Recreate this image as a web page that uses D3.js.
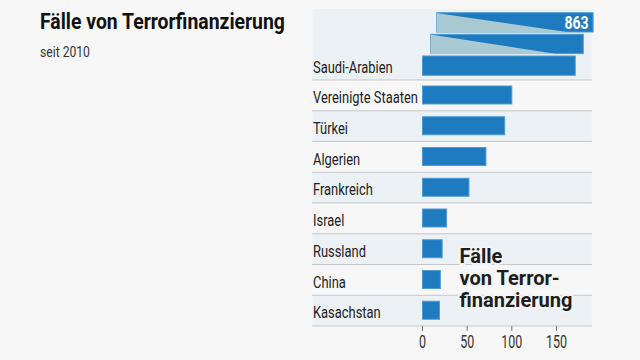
<!DOCTYPE html>
<html>
<head>
<meta charset="utf-8">
<script src="https://cdn.jsdelivr.net/npm/d3@7"></script>
<style>
  body { margin: 0; background: #f7f7f7; }
  svg text { font-family: Roboto, "Noto Sans", sans-serif; }
</style>
</head>
<body>
<div id="chart"></div>
<script>
var countries = ["Saudi-Arabien", "Vereinigte Staaten", "Türkei", "Algerien", "Frankreich",
                 "Israel", "Russland", "China", "Kasachstan"];
var cases = [863, 100, 92, 71, 52, 27, 22, 20, 19];
var tickValues = [0, 50, 100, 150];
var titleText = "Fälle von Terrorfinanzierung";
var subtitleText = "seit 2010";
var overlayLines = ["Fälle", "von Terror-", "finanzierung"];

var myChart = {};
(function(context) {

    var width = 640;
    var height = 360;

    var svg;
    var x;
    var y;

    var panelLeft = 312.5;
    var panelRight = 591.7;
    var bigTop = 9;     // the folded bar for the first country gets a tall row
    var rowsTop = 80;
    var rowsBottom = 326;

    var barColor = "#1f7bbf";
    var barStroke = "#4f9bd6";
    var foldColor = "#a9c9d3";
    var rowColor = "#ecf1f5";

    // the original uses a condensed face; squeeze the text horizontally instead
    function squeeze(sel, f) {
        sel.each(function() {
            var t = d3.select(this);
            var tx = +t.attr("x") || 0;
            var ty = +t.attr("y") || 0;
            t.attr("x", 0).attr("y", 0)
             .attr("transform", "translate(" + tx + "," + ty + ") scale(" + f + ",1)");
        });
    }

    context.draw = function(name) {

        svg = d3.select(name).append("svg")
            .attr("width", width)
            .attr("height", height);

        svg.append("rect")
            .attr("width", width)
            .attr("height", height)
            .attr("fill", "#f7f7f7");

        x = d3.scaleLinear()
            .domain([0, 190])
            .range([422, panelRight]);

        y = d3.scaleBand()
            .domain(countries.slice(1))
            .range([rowsTop, rowsBottom]);

        // row backgrounds
        svg.append("rect")
            .attr("x", panelLeft)
            .attr("y", bigTop)
            .attr("width", panelRight - panelLeft)
            .attr("height", rowsTop - bigTop)
            .attr("fill", rowColor);

        svg.selectAll("rect.row")
            .data(countries.slice(1))
            .enter()
            .append("rect")
            .attr("class", "row")
            .attr("x", panelLeft)
            .attr("y", function(d) { return y(d); })
            .attr("width", panelRight - panelLeft)
            .attr("height", y.bandwidth())
            .attr("fill", function(d, i) { return i % 2 === 1 ? rowColor : "none"; });

        // dotted separators
        var lines = [rowsTop].concat(countries.slice(1).map(function(d) { return y(d) + y.bandwidth(); }));
        svg.selectAll("line.sep")
            .data(lines)
            .enter()
            .append("line")
            .attr("class", "sep")
            .attr("x1", panelLeft)
            .attr("x2", panelRight)
            .attr("y1", function(d) { return d; })
            .attr("y2", function(d) { return d; })
            .attr("stroke", "#9a9a9a")
            .attr("stroke-width", 1)
            .attr("stroke-dasharray", "1,1");

        // normal bars
        svg.selectAll("rect.bar")
            .data(countries.slice(1))
            .enter()
            .append("rect")
            .attr("class", "bar")
            .attr("x", x(0) + 0.5)
            .attr("y", function(d) { return y(d) + 6; })
            .attr("width", function(d, i) { return x(cases[i + 1]) - x(0); })
            .attr("height", 18)
            .attr("fill", barColor)
            .attr("stroke", barStroke)
            .attr("stroke-width", 1);

        // folded bar (value too large for the axis)
        var folds = [
            { start: 16, end: 191, top: 12.7, cutTop: 18, cutBottom: 166 },
            { start: 9,  end: 180, top: 34.3, cutTop: 11, cutBottom: 151 },
            { start: 0,  end: 171, top: 56,   cutTop: null, cutBottom: null }
        ];
        var foldH = 19.3;

        folds.forEach(function(f) {
            svg.append("rect")
                .attr("x", x(f.start) + 0.5)
                .attr("y", f.top)
                .attr("width", x(f.end) - x(f.start))
                .attr("height", foldH)
                .attr("fill", barColor)
                .attr("stroke", barStroke)
                .attr("stroke-width", 1);
            if (f.cutTop !== null) {
                svg.append("path")
                    .attr("d", "M" + (x(f.start) + 0.5) + "," + (f.top + 0.5) +
                               "L" + x(f.cutTop) + "," + (f.top + 0.5) +
                               "L" + x(f.cutBottom) + "," + (f.top + foldH + 0.5) +
                               "L" + (x(f.start) + 0.5) + "," + (f.top + foldH + 0.5) + "Z")
                    .attr("fill", foldColor);
            }
        });

        var big = svg.append("text")
            .attr("x", x(191) - 4)
            .attr("y", 28.5)
            .attr("text-anchor", "end")
            .attr("font-size", 18)
            .attr("font-weight", "bold")
            .attr("fill", "#fff")
            .text(cases[0]);
        squeeze(big, 0.78);

        // country labels
        var labels = svg.selectAll("text.label")
            .data(countries)
            .enter()
            .append("text")
            .attr("class", "label")
            .attr("x", 313)
            .attr("y", function(d, i) { return i === 0 ? 72.7 : y(d) + 23; })
            .attr("font-size", 16.5)
            .attr("fill", "#222")
            .text(function(d) { return d; });
        var wUS = labels.filter(function(d, i) { return i === 1; }).node().getComputedTextLength();
        squeeze(labels, 105 / wUS);

        // axis
        var axis = svg.append("g")
            .attr("transform", "translate(0," + rowsBottom + ")")
            .call(d3.axisBottom(x).tickValues(tickValues).tickSize(5).tickPadding(5));
        axis.select(".domain").remove();
        axis.selectAll(".tick line").attr("stroke", "#777");
        var tickText = axis.selectAll(".tick text")
            .attr("font-size", 17.5)
            .attr("fill", "#333")
            .attr("font-family", "Roboto, sans-serif");
        var w150 = tickText.filter(function(d) { return d === 150; }).node().getComputedTextLength();
        tickText.attr("transform", "scale(" + (21 / w150) + ",1)");

        // overlay label, with a halo that cuts the dotted lines
        var overlay = svg.selectAll("text.overlay")
            .data(overlayLines)
            .enter()
            .append("text")
            .attr("class", "overlay")
            .attr("x", 459.5)
            .attr("y", function(d, i) { return 263.3 + i * 21.9; })
            .attr("font-size", 20.5)
            .attr("font-weight", "bold")
            .attr("fill", "#1e1e1e")
            .attr("stroke", "#f3f5f7")
            .attr("stroke-width", 4)
            .attr("stroke-linejoin", "round")
            .attr("paint-order", "stroke")
            .text(function(d) { return d; });
        var wFin = overlay.filter(function(d, i) { return i === 2; }).node().getComputedTextLength();
        squeeze(overlay, 113 / wFin);

        // title
        var title = svg.append("text")
            .attr("x", 40)
            .attr("y", 29.3)
            .attr("font-size", 21.5)
            .attr("font-weight", "bold")
            .attr("fill", "#111")
            .text(titleText);
        squeeze(title, 245 / title.node().getComputedTextLength());

        var sub = svg.append("text")
            .attr("x", 40)
            .attr("y", 57)
            .attr("font-size", 14.5)
            .attr("fill", "#333")
            .text(subtitleText);
        squeeze(sub, 50 / sub.node().getComputedTextLength());
    }

})(myChart);

myChart.draw("#chart");
</script>
</body>
</html>
